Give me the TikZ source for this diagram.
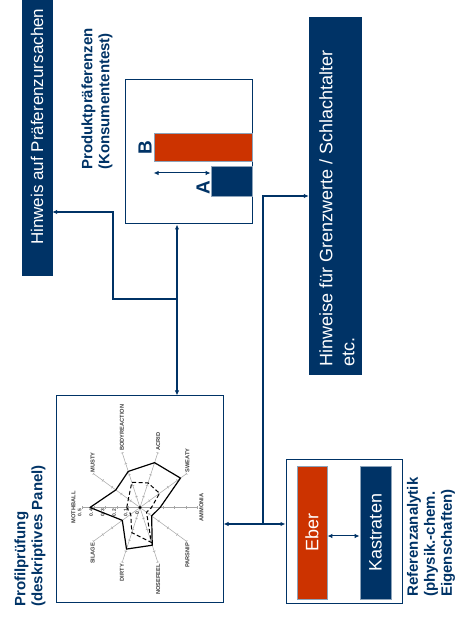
\documentclass[tikz,border=0pt]{standalone}
\usepackage{fontspec}
\setmainfont{Liberation Sans}
\usepackage{graphicx}
\usetikzlibrary{arrows.meta}

\definecolor{navy}{RGB}{0,51,102}
\definecolor{rust}{RGB}{204,51,0}

\begin{document}
\begin{tikzpicture}[x=1pt,y=1pt,
    >={Latex[length=5pt,width=4.5pt]},
    conn/.style={navy,line width=1.5pt},
    panel/.style={draw=navy,line width=1pt,fill=white,inner sep=0},
    darkbox/.style={fill=navy,draw=navy,inner sep=0,text=white},
    redbar/.style={fill=rust,draw=navy!45,line width=0.8pt,inner sep=0,text=white},
    bluebar/.style={fill=navy,draw=navy!45,line width=0.8pt,inner sep=0,text=white},
    boxtxt/.style={text=white,inner sep=0,rotate=90,anchor=west,align=left},
    heading/.style={text=navy,font=\fontsize{15}{17}\selectfont\bfseries,align=left,inner sep=0,rotate=90,anchor=west},
    letter/.style={text=navy,font=\fontsize{19}{19}\selectfont\bfseries,rotate=90,inner sep=0},
    spoke/.style={draw=gray!70,line width=0.5pt},
    axislab/.style={text=black!75,font=\fontsize{5.7}{6}\selectfont\bfseries,rotate=90,inner sep=0.6pt},
    ticklab/.style={text=black!75,font=\fontsize{5}{5}\selectfont\bfseries,rotate=90,inner sep=0},
    sampleA/.style={black,line width=1.2pt,line join=round},
    sampleB/.style={black,line width=1pt,dash pattern=on 4pt off 2.5pt}
  ]
  \useasboundingbox (0,0) rectangle (459,630);

  % boxes on top
  \node[darkbox,minimum width=30,minimum height=275] (causes) at (37,492.5) {};
  \node[boxtxt,font=\fontsize{17}{20}\selectfont] (causestxt) at (37,385) {Hinweis auf Präferenzursachen};

  \node[darkbox,minimum width=52,minimum height=357] (limits) at (335,434.5) {};
  \node[boxtxt,font=\fontsize{18}{22}\selectfont] (limitstxt) at (337,263) {Hinweise für Grenzwerte / Schlachtalter\\etc.};

  % consumer test
  \node[panel,minimum width=127,minimum height=144] (pref) at (188.5,478) {};
  \node[redbar,minimum width=98,minimum height=28] (barB) at (203,483) {};
  \node[bluebar,minimum width=41,minimum height=30] (barA) at (231.5,449) {};
  \node[letter] (labB) at (145,482) {B};
  \node[letter] (labA) at (203,442) {A};
  \draw[conn,<->,line width=1pt] (barB.west |- 0,457) -- (barA.west |- 0,457);
  \node[heading] (preftitle) at (97,460) {Produktpräferenzen\\(Konsumententest)};

  % descriptive panel
  \node[panel,minimum width=167,minimum height=207] (profile) at (139.5,130.5) {};
  \node[heading] (proftitle) at (30,23) {Profilprüfung\\(deskriptives Panel)};

  \begin{scope}[shift={(140,122.5)},x=11.5pt,y=11.5pt]
    \foreach \a in {0,36,...,324} {
      \draw[spoke] (0,0) -- (\a:5);
      \foreach \k in {1,...,5}
        \draw[spoke,rotate=\a] (\k,-0.12) -- (\k,0.12);
    }
    \foreach \a/\r/\an/\t in {180/5.55/south/MOTHBALL, 144/5.1/west/MUSTY,
        108/5.1/west/BODYREACTION, 72/5.1/west/ACRID, 36/5.1/west/SWEATY,
        0/5.1/north/AMMONIA, -36/5.1/east/PARSNIP, -72/5.1/east/NOSEFEEL,
        -108/5.1/east/DIRTY, -144/5.1/east/SILAGE}
      \node[axislab,anchor=\an] (ax-\t) at (\a:\r) {\t};
    \foreach \k/\v in {0/0,1/0.1,2/0.2,3/0.3,4/0.4,5/0.5}
      \node[ticklab] (tk\k) at (-\k-0.25,-0.45) {\v};

    \draw[sampleB] (180:1.15) -- (144:1.25) -- (108:2.3) -- (72:2.25) -- (36:2.1)
      -- (0:1.0) -- (-36:0.7) -- (-72:3.2) -- (-108:2.3) -- (-144:1.0) -- cycle;
    \draw[sampleA] (180:4.35) -- (144:2.6) -- (108:3.3) -- (72:4.1) -- (36:4.35)
      -- (0:1.75) -- (-36:1.25) -- (-72:3.45) -- (-108:3.8) -- (-144:1.9) -- cycle;
    \fill[black] (0,0) circle (1.6pt);
  \end{scope}

  % reference analytics
  \node[panel,minimum width=116,minimum height=144] (refpanel) at (344,98) {};
  \node[redbar,minimum width=30,minimum height=133,font=\fontsize{18}{18}\selectfont] (eber) at (312,97.5) {\rotatebox{90}{Eber}};
  \node[bluebar,minimum width=31,minimum height=133,font=\fontsize{18}{18}\selectfont] (kastr) at (375.5,97.5) {\rotatebox{90}{Kastraten}};
  \draw[conn,<->,line width=1pt] (eber.east |- 0,94) -- (kastr.west |- 0,94);
  \node[heading] (reftitle) at (431,33) {Referenzanalytik\\(physik.-chem.\\Eigenschaften)};

  % connectors
  \coordinate (jp) at (177,331);
  \draw[conn,<->] (pref.south -| jp) -- (profile.north -| jp);
  \draw[conn,->] (jp) -| (113,418) -- (causes.east |- 0,418);

  \coordinate (jr) at (263,106);
  \draw[conn,<->] (profile.east |- jr) -- (refpanel.west |- jr);
  \draw[conn,->] (jr) |- (limits.west |- 0,434);
\end{tikzpicture}
\end{document}
